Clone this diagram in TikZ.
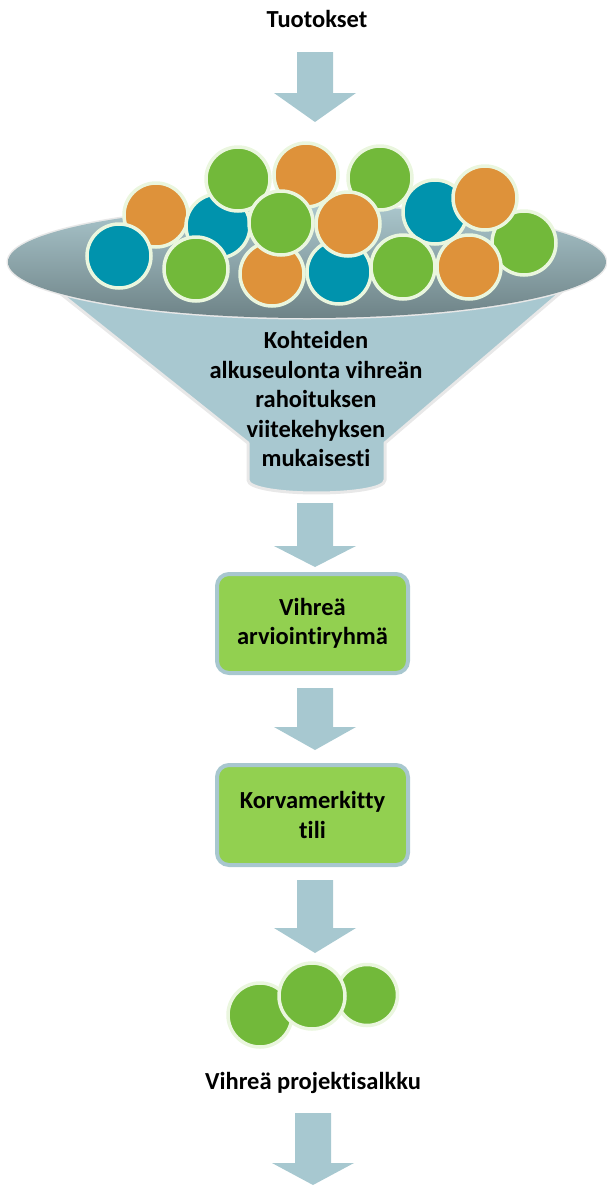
\documentclass[tikz,border=0pt]{standalone}
\usepackage{fontspec}
\setmainfont{Carlito}[Ligatures=NoCommon]
\definecolor{arrowc}{RGB}{167,200,208}
\definecolor{boxfill}{RGB}{146,208,80}
\definecolor{boxline}{RGB}{168,199,207}
\definecolor{orangeb}{RGB}{222,146,58}
\definecolor{tealb}{RGB}{0,147,173}
\definecolor{greenb}{RGB}{114,185,58}
\definecolor{ballline}{RGB}{234,246,222}
\definecolor{rimtop}{RGB}{170,198,204}
\definecolor{rimbot}{RGB}{110,131,135}
\definecolor{conec}{RGB}{168,200,208}
\definecolor{edgec}{RGB}{232,232,232}
\newcommand\blockarrow[4]{%
  \fill[arrowc] (#1-18,#2) -- (#1+18,#2) -- (#1+18,#3) -- (#1+41,#3) -- (#1,#4) -- (#1-41,#3) -- (#1-18,#3) -- cycle;}
\begin{document}
\begin{tikzpicture}[x=1pt,y=-1pt,
  lbl/.style={font=\bfseries\fontsize{24.5}{29.5}\selectfont, align=center, inner sep=0pt},
  greenbox/.style={draw=boxline, fill=boxfill, line width=4pt, rounded corners=12pt,
    minimum width=191pt, lbl},
  ball/.style={circle, draw=ballline, line width=3.5pt, minimum size=64pt, inner sep=0pt},
  ob/.style={ball, fill=orangeb},
  tb/.style={ball, fill=tealb},
  gb/.style={ball, fill=greenb}]
\useasboundingbox (0,0) rectangle (607,1186);
% title
\node[lbl, anchor=base] (title) at (317,27) {Tuotokset};
\blockarrow{315}{52}{93}{122}
% funnel cone
\filldraw[fill=conec, draw=edgec, line width=3pt, line join=round]
  (31,270) -- (587,270) -- (385,443) -- (385,480)
  .. controls (385,497.3) and (248,497.3) .. (248,480) -- (248,443) -- cycle;
% funnel rim
\draw[edgec, line width=3pt] (307,262) ellipse (299pt and 56pt);
\shade[top color=rimtop, bottom color=rimbot] (307,262) ellipse (299pt and 56pt);
% balls
\node[ob] (bb) at (156,215) {};
\node[tb] (bc) at (218,226) {};
\node[ob] (be) at (306,175) {};
\node[gb] (bf) at (380,178) {};
\node[tb] (bm) at (435,212) {};
\node[gb] (bp) at (524,243) {};
\node[tb] (ba) at (119,256) {};
\node[gb] (bd) at (238,179) {};
\node[gb] (bg) at (196,269) {};
\node[ob] (bh) at (272,274) {};
\node[tb] (bk) at (339,272) {};
\node[gb] (bi) at (281,223) {};
\node[ob] (bj) at (348,224) {};
\node[gb] (bl) at (403,267) {};
\node[ob] (bo) at (469,267) {};
\node[ob] (bn) at (485,198) {};
% funnel text
\node[lbl] (screen) at (316,399) {Kohteiden\\alkuseulonta vihreän\\rahoituksen\\viitekehyksen\\mukaisesti};
\blockarrow{315}{503}{546}{567}
\node[greenbox, minimum height=99pt] (box1) at (312.5,623.5) {Vihreä\\arviointiryhmä};
\blockarrow{315}{688}{727}{750}
\node[greenbox, minimum height=100pt] (box2) at (312.5,815) {Korvamerkitty\\tili};
\blockarrow{315}{880}{928}{953}
% portfolio balls
\node[gb, minimum size=64pt] (p1) at (260,1015) {};
\node[gb, minimum size=61pt] (p3) at (367,995) {};
\node[gb, minimum size=66pt] (p2) at (312,996) {};
\node[lbl, anchor=base] (portfolio) at (313,1089) {Vihreä projektisalkku};
\blockarrow{313}{1113}{1163}{1185}
\end{tikzpicture}
\end{document}
